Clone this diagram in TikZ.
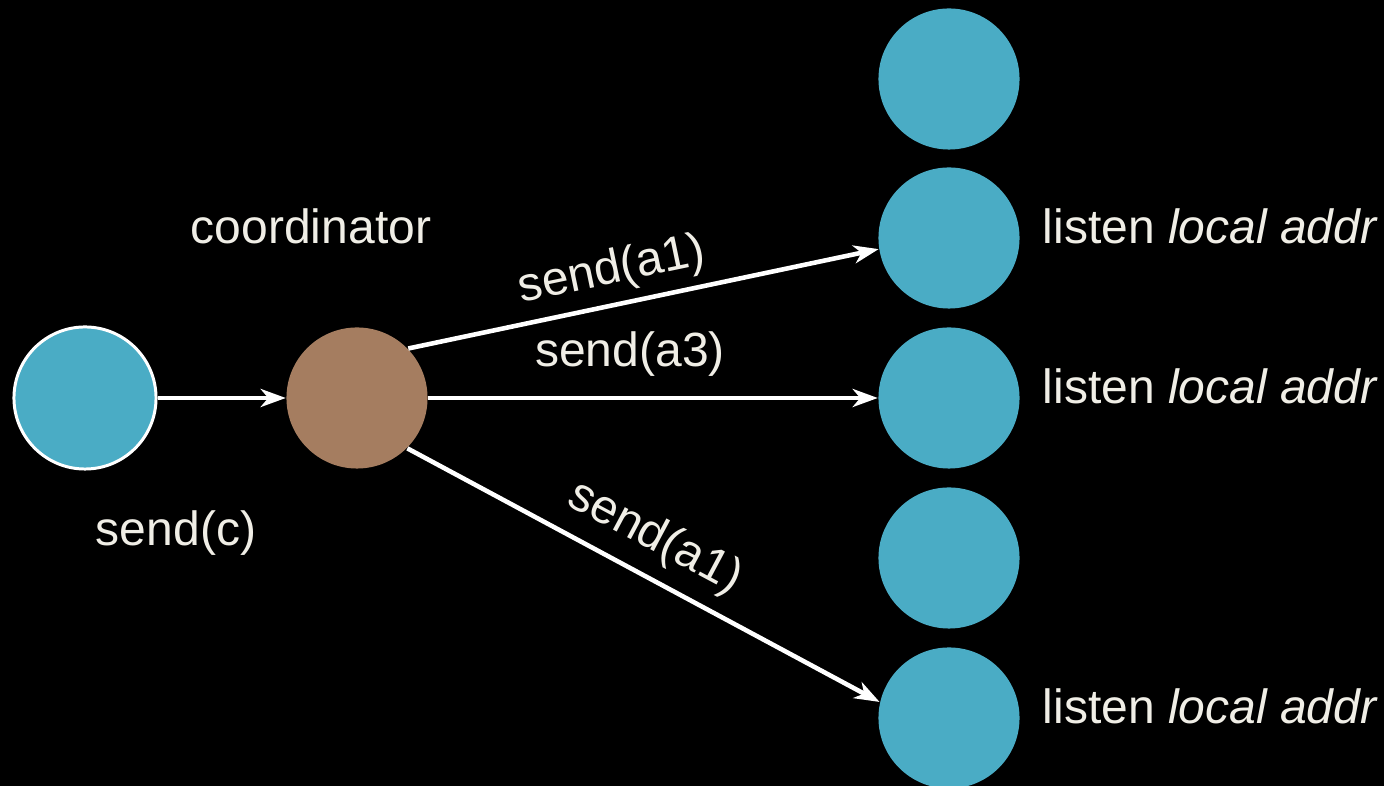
\documentclass[tikz,border=0pt]{standalone}
\usepackage{fontspec}
\setmainfont{Liberation Sans}
\usetikzlibrary{arrows.meta}
\definecolor{teal1}{HTML}{4AACC5}
\definecolor{brown1}{HTML}{A57D60}
\definecolor{txt}{HTML}{F0EEE6}
\begin{document}
\begin{tikzpicture}[x=0.01cm,y=-0.01cm,
  bubble/.style={circle,fill=teal1,minimum size=1.41cm,inner sep=0pt},
  coord/.style={circle,fill=brown1,minimum size=1.41cm,inner sep=0pt},
  lbl/.style={text=txt,font=\fontsize{13.66}{16}\selectfont,inner sep=0pt},
  conn/.style={draw=white,line width=1.3pt,-{Stealth[length=0.25cm,width=0.18cm,inset=0.075cm]}}]
\fill[black] (0,0) rectangle (1384,786);
\useasboundingbox (0,0) rectangle (1384,786);
\node[bubble,draw=white,line width=0.85pt,minimum size=1.42cm] (src) at (85,398) {};
\node[coord] (c) at (357,398) {};
\node[bubble] (t1) at (949,79) {};
\node[bubble] (t2) at (949,238) {};
\node[bubble] (t3) at (949,398) {};
\node[bubble] (t4) at (949,558) {};
\node[bubble] (t5) at (949,718) {};
\draw[conn] (src.east) -- (c.west);
\draw[conn] (c.44) -- (t2.189);
\draw[conn] (c.east) -- (t3.west);
\draw[conn] (c.-45) -- (t5.167);
\node[lbl,anchor=base] (lc) at (311,244) {coordinator};
\node[lbl,anchor=base] (ls) at (176,546) {send(c)};
\node[lbl,anchor=base] (la3) at (630,367) {send(a3)};
\node[lbl,rotate=11.8] (la1) at (612,271) {send(a1)};
\node[lbl,rotate=-28.1] (lb1) at (655,538) {send(a1)};
\node[lbl,anchor=base west] (l2) at (1042,244) {listen \textit{local addr}};
\node[lbl,anchor=base west] (l3) at (1042,404) {listen \textit{local addr}};
\node[lbl,anchor=base west] (l5) at (1042,724) {listen \textit{local addr}};
\end{tikzpicture}
\end{document}
